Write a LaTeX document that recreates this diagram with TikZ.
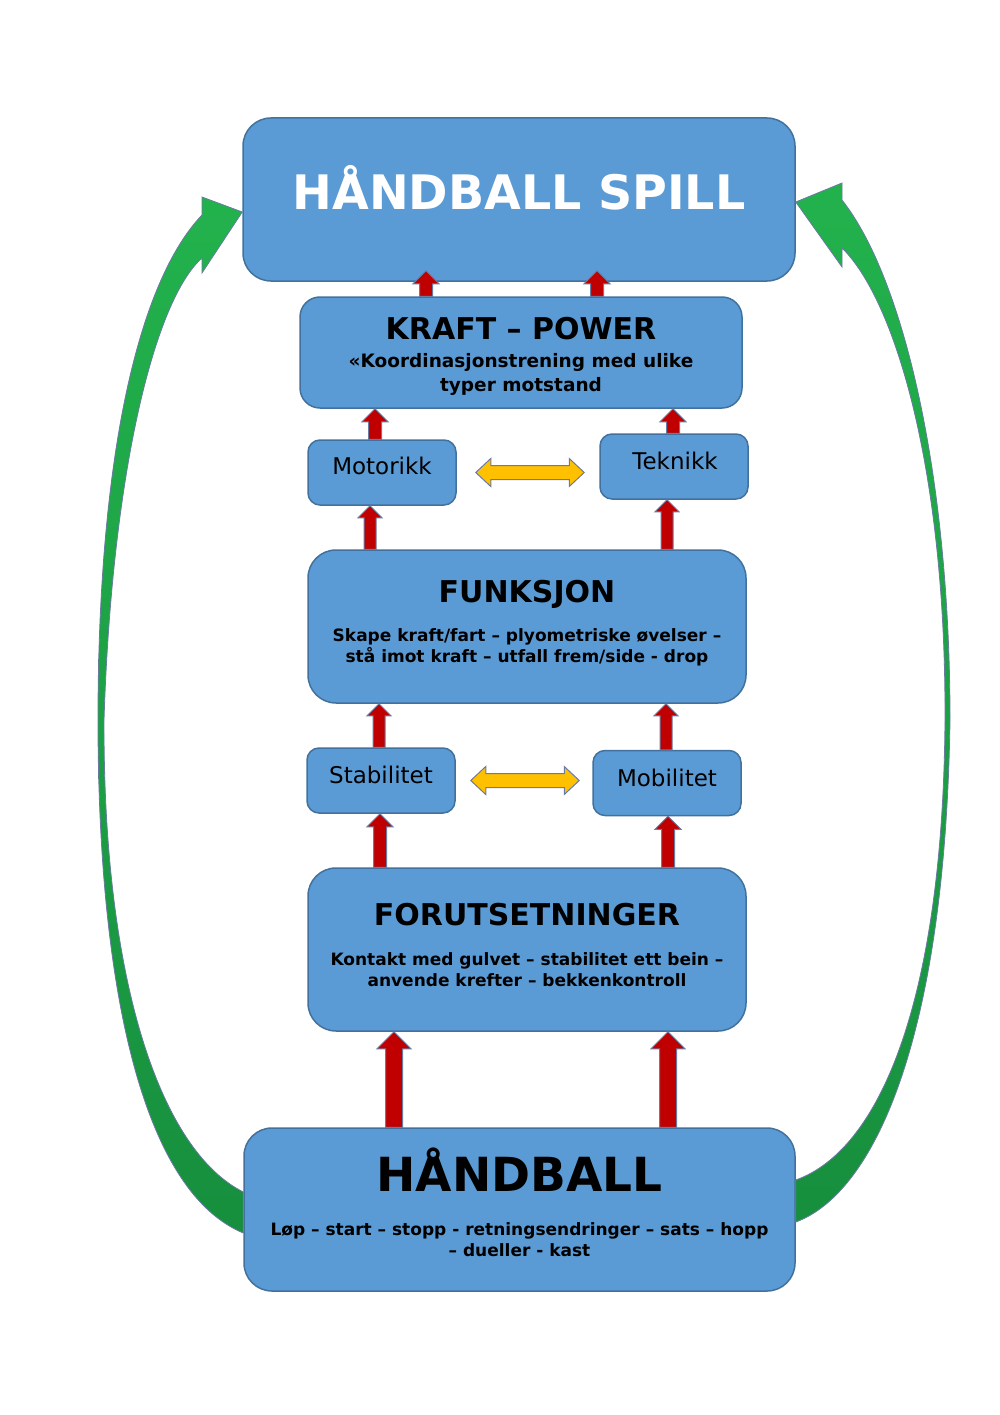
\documentclass[tikz,border=0pt]{standalone}
\usepackage{fontspec}
\setmainfont{DejaVu Sans}
\usetikzlibrary{calc}
\definecolor{boxblue}{HTML}{5B9BD5}
\definecolor{boxline}{HTML}{41719C}
\definecolor{arrred}{HTML}{C00000}
\definecolor{arrline}{HTML}{6A7BA2}
\definecolor{arryellow}{HTML}{FFC000}
\definecolor{greenA}{HTML}{22B24C}
\definecolor{greenB}{HTML}{178F3E}
\newcommand\uparr[3]{\path[redarrow] let \p1=#2, \p2=#3 in (\x1-#1pt,\y1) -- (\x1-#1pt,\y2-2*#1pt) -- (\x1-2*#1pt,\y2-2*#1pt) -- (\x1,\y2) -- (\x1+2*#1pt,\y2-2*#1pt) -- (\x1+#1pt,\y2-2*#1pt) -- (\x1+#1pt,\y1) -- cycle;}
\newcommand\dblarr[2]{\path[yelarrow] let \p1=#1, \p2=#2 in (\x1,\y1) -- (\x1+15pt,\y1+14pt) -- (\x1+15pt,\y1+7pt) -- (\x2-15pt,\y1+7pt) -- (\x2-15pt,\y1+14pt) -- (\x2,\y1) -- (\x2-15pt,\y1-14pt) -- (\x2-15pt,\y1-7pt) -- (\x1+15pt,\y1-7pt) -- (\x1+15pt,\y1-14pt) -- cycle;}

\begin{document}
\begin{tikzpicture}[x=1pt,y=-1pt]
\tikzstyle{bigbox}=[draw=boxline,line width=1.5pt,fill=boxblue,rounded corners=28pt,inner sep=0pt]
\tikzstyle{smallbox}=[draw=boxline,line width=1.5pt,fill=boxblue,rounded corners=12pt,inner sep=0pt,minimum width=148pt,minimum height=65pt]
\tikzstyle{title}=[anchor=base,inner sep=0pt,font=\bfseries\fontsize{30}{36}\selectfont]
\tikzstyle{sub}=[anchor=base,inner sep=0pt,align=center,font=\bfseries\fontsize{17}{21.5}\selectfont]
\tikzstyle{word}=[anchor=base,inner sep=0pt,font=\fontsize{23}{28}\selectfont]
\tikzstyle{redarrow}=[fill=arrred,draw=arrline,line width=1pt]
\tikzstyle{yelarrow}=[fill=arryellow,draw=arrline,line width=1pt]
\tikzstyle{greenbend}=[draw=arrline,line width=0.8pt,top color=greenA,bottom color=greenB]
\useasboundingbox (0,0) rectangle (1000,1415);
\node[bigbox,minimum width=552pt,minimum height=163pt] (B_spill) at (519,199.5) {};
\node[bigbox,minimum width=442pt,minimum height=111pt,rounded corners=20pt] (B_kraft) at (521,352.5) {};
\node[smallbox] (B_mot) at (382,472.5) {};
\node[smallbox] (B_tek) at (674,466.5) {};
\node[bigbox,minimum width=438pt,minimum height=153pt] (B_fun) at (527,626.5) {};
\node[smallbox] (B_stab) at (381,780.5) {};
\node[smallbox] (B_mob) at (667,783) {};
\node[bigbox,minimum width=438pt,minimum height=163pt] (B_for) at (527,949.5) {};
\node[bigbox,minimum width=551pt,minimum height=163pt] (B_hb) at (519.5,1209.5) {};
\node[anchor=base,inner sep=0pt,text=white,font=\bfseries\fontsize{47.5}{56}\selectfont] (T_spill) at ($(B_spill.north)+(0,92)$) {HÅNDBALL SPILL};
\node[title] (T_kraft) at ($(B_kraft.north)+(0,43)$) {KRAFT – POWER};
\node[sub,font=\bfseries\fontsize{18.5}{24}\selectfont] (S_kraft) at ($(B_kraft.north)+(0,95)$) {«Koordinasjonstrening med ulike\\typer motstand};
\node[word] (T_mot) at ($(B_mot.center)+(0,1.5)$) {Motorikk};
\node[word] (T_tek) at ($(B_tek.center)+(1,2.5)$) {Teknikk};
\node[title] (T_fun) at ($(B_fun.north)+(0,53)$) {FUNKSJON};
\node[sub] (S_fun) at ($(B_fun.north)+(0,113.5)$) {Skape kraft/fart – plyometriske øvelser –\\stå imot kraft – utfall frem/side - drop};
\node[word] (T_stab) at ($(B_stab.center)+(0,2.5)$) {Stabilitet};
\node[word] (T_mob) at ($(B_mob.center)+(0,3)$) {Mobilitet};
\node[title] (T_for) at ($(B_for.north)+(0,58)$) {FORUTSETNINGER};
\node[sub] (S_for) at ($(B_for.north)+(0,119.5)$) {Kontakt med gulvet – stabilitet ett bein –\\anvende krefter – bekkenkontroll};
\node[anchor=base,inner sep=0pt,font=\bfseries\fontsize{47}{56}\selectfont] (T_hb) at ($(B_hb.north)+(0,64)$) {HÅNDBALL};
\node[sub] (S_hb) at ($(B_hb.north)+(0,129.5)$) {Løp – start – stopp - retningsendringer – sats – hopp\\– dueller - kast};
\uparr{6.5}{(B_kraft.north -| 426,0)}{($(B_spill.south -| 426,0)+(0,-11)$)}
\uparr{6.5}{(B_kraft.north -| 597,0)}{($(B_spill.south -| 597,0)+(0,-11)$)}
\uparr{6.5}{(B_mot.north -| 375,0)}{(B_kraft.south -| 375,0)}
\uparr{6.5}{(B_tek.north -| 673,0)}{(B_kraft.south -| 673,0)}
\uparr{6}{(B_fun.north -| 370,0)}{(B_mot.south -| 370,0)}
\uparr{6}{(B_fun.north -| 667,0)}{(B_tek.south -| 667,0)}
\uparr{6}{(B_stab.north -| 379,0)}{(B_fun.south -| 379,0)}
\uparr{6}{(B_mob.north -| 666,0)}{(B_fun.south -| 666,0)}
\uparr{6.5}{(B_for.north -| 380,0)}{(B_stab.south -| 380,0)}
\uparr{6.5}{(B_for.north -| 668,0)}{(B_mob.south -| 668,0)}
\uparr{8.5}{(B_hb.north -| 394,0)}{(B_for.south -| 394,0)}
\uparr{8.5}{(B_hb.north -| 668,0)}{(B_for.south -| 668,0)}
\dblarr{($(B_mot.east)+(19,0)$)}{($(B_tek.west |- B_mot.east)+(-15,0)$)}
\dblarr{($(B_stab.east)+(15,0)$)}{($(B_mob.west |- B_stab.east)+(-13,0)$)}
\coordinate (L_out) at ($(B_hb.west)+(0,23.5)$);
\coordinate (L_in) at ($(B_hb.west)+(0,-17.5)$);
\coordinate (L_tip) at ($(B_spill.west)+(0,12.5)$);
\coordinate (R_out) at ($(B_hb.east)+(0,12.5)$);
\coordinate (R_in) at ($(B_hb.east)+(0,-29.5)$);
\coordinate (R_tip) at ($(B_spill.east)+(0,2.5)$);
\path[greenbend] (L_out) .. controls (140,1190) and (98,980) .. (98,720) .. controls (98,450) and (140,280) .. (202,215) -- (202,197) -- (L_tip) -- (202,273) -- (202,258) .. controls (155,300) and (112,470) .. (104,720) .. controls (103,980) and (160,1150) .. (L_in) -- cycle;
\path[greenbend] (R_out) .. controls (870,1195) and (945,1050) .. (950,720) .. controls (950,480) and (905,280) .. (842,200) -- (842,183) -- (R_tip) -- (842,267) -- (842,248) .. controls (895,300) and (946,470) .. (945,720) .. controls (943,1000) and (880,1150) .. (R_in) -- cycle;
\end{tikzpicture}
\end{document}
